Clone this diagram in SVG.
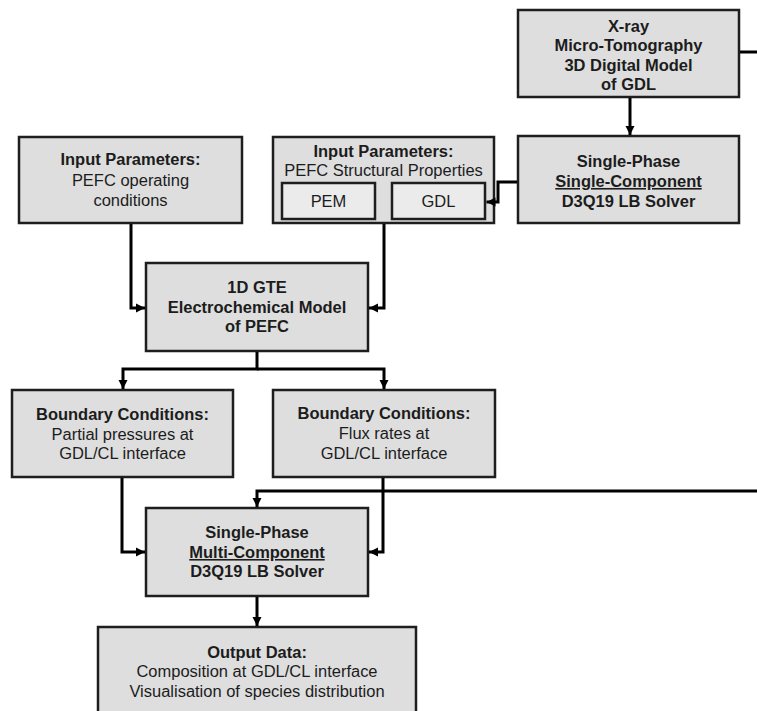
<svg xmlns="http://www.w3.org/2000/svg" width="757" height="711" viewBox="0 0 757 711">
<style>
.box{fill:#dedede;stroke:#1e1e1e;stroke-width:2.5}
.inner{fill:#ebebeb;stroke:#1e1e1e;stroke-width:2.5}
text{font-family:"Liberation Sans",Arial,sans-serif;font-size:16px;fill:#1c1c1c;text-anchor:middle;transform-box:fill-box;transform-origin:center;transform:scaleX(1.03)}
.b{font-weight:bold}
.u{text-decoration:underline}
.c{fill:none;stroke:#000;stroke-width:3}
</style>
<defs>
<marker id="ah" markerUnits="userSpaceOnUse" markerWidth="10" markerHeight="10" refX="9" refY="5" orient="auto">
<path d="M0,0.5 L9,5 L0,9.5 z" fill="#000"/>
</marker>
</defs>
<rect width="757" height="711" fill="#fff"/>
<g id="xray">
<rect class="box" x="518" y="10" width="221" height="87"/>
<text class="b" x="628.5" y="32">X-ray</text>
<text class="b" x="628.5" y="51">Micro-Tomography</text>
<text class="b" x="628.5" y="71">3D Digital Model</text>
<text class="b" x="628.5" y="90">of GDL</text>
</g>
<g id="single-component">
<rect class="box" x="518" y="136" width="221" height="87"/>
<text class="b" x="628.5" y="167">Single-Phase</text>
<text class="b u" x="628.5" y="187">Single-Component</text>
<text class="b" x="628.5" y="207">D3Q19 LB Solver</text>
</g>
<g id="input-operating">
<rect class="box" x="19" y="137" width="223" height="86"/>
<text class="b" x="130.5" y="165">Input Parameters:</text>
<text x="130.5" y="186">PEFC operating</text>
<text x="130.5" y="206">conditions</text>
</g>
<g id="input-structural">
<rect class="box" x="273" y="137" width="221" height="86"/>
<text class="b" x="383.5" y="157">Input Parameters:</text>
<text x="383.5" y="176">PEFC Structural Properties</text>
<g id="pem">
<rect class="inner" x="282" y="183" width="93" height="36"/>
<text x="328.5" y="207">PEM</text>
</g>
<g id="gdl">
<rect class="inner" x="392" y="183" width="93" height="36"/>
<text x="438.5" y="207">GDL</text>
</g>
</g>
<g id="gte">
<rect class="box" x="146" y="263" width="222" height="88"/>
<text class="b" x="257" y="293">1D GTE</text>
<text class="b" x="257" y="313">Electrochemical Model</text>
<text class="b" x="257" y="332">of PEFC</text>
</g>
<g id="bc-pressures">
<rect class="box" x="12" y="390" width="221" height="87"/>
<text class="b" x="122.5" y="420">Boundary Conditions:</text>
<text x="122.5" y="440">Partial pressures at</text>
<text x="122.5" y="459">GDL/CL interface</text>
</g>
<g id="bc-flux">
<rect class="box" x="273" y="390" width="222" height="87"/>
<text class="b" x="384" y="419">Boundary Conditions:</text>
<text x="384" y="439">Flux rates at</text>
<text x="384" y="459">GDL/CL interface</text>
</g>
<g id="multi-component">
<rect class="box" x="146" y="508" width="222" height="88"/>
<text class="b" x="257" y="538">Single-Phase</text>
<text class="b u" x="257" y="558">Multi-Component</text>
<text class="b" x="257" y="577">D3Q19 LB Solver</text>
</g>
<g id="output">
<rect class="box" x="98" y="627" width="318" height="95"/>
<text class="b" x="257" y="658">Output Data:</text>
<text x="257" y="677">Composition at GDL/CL interface</text>
<text x="257" y="697">Visualisation of species distribution</text>
</g>
<g id="connectors">
<path class="c" d="M740,52 H757"/>
<path class="c" d="M630,98 V135" marker-end="url(#ah)"/>
<path class="c" d="M517,182 H498 V202 H486.5" marker-end="url(#ah)"/>
<path class="c" d="M131,224 V308 H145" marker-end="url(#ah)"/>
<path class="c" d="M384,224 V308 H369" marker-end="url(#ah)"/>
<path class="c" d="M257,352 V369 H123 V389" marker-end="url(#ah)"/>
<path class="c" d="M257,369 H384 V389" marker-end="url(#ah)"/>
<path class="c" d="M122,478 V552 H145" marker-end="url(#ah)"/>
<path class="c" d="M383,478 V552 H369" marker-end="url(#ah)"/>
<path class="c" d="M757,491 H257 V507" marker-end="url(#ah)"/>
<path class="c" d="M257,597 V626" marker-end="url(#ah)"/>
</g>
</svg>
